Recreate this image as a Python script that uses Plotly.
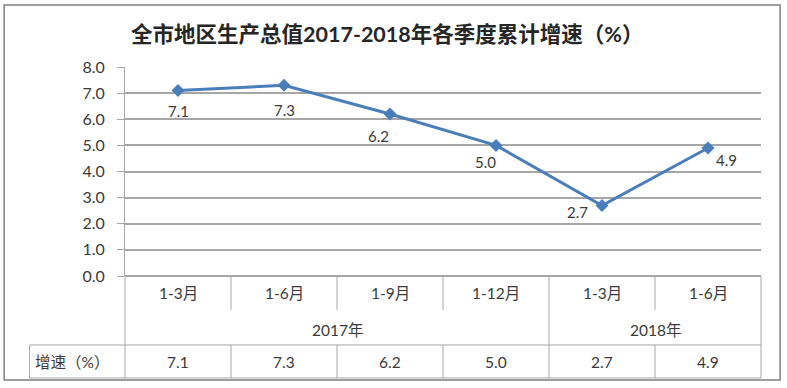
import plotly.graph_objects as go

# ---- data ----
periods = ["1-3月", "1-6月", "1-9月", "1-12月", "1-3月", "1-6月"]
years = ["2017年", "2018年"]
year_spans = [(0, 3), (4, 5)]          # category index range for each year
growth = [7.1, 7.3, 6.2, 5.0, 2.7, 4.9]
row_label = "增速（%）"
title_text = "全市地区生产总值2017-2018年各季度累计增速（%）"
y_ticks = [0, 1, 2, 3, 4, 5, 6, 7, 8]

# ---- styles ----
FONT = "Lato, 'Noto Sans CJK SC', sans-serif"
TXT = "#3A3A3A"
LINE_BLUE = "#4A7EBB"
GRID = "#A6A6A6"
label_offsets = [(0, -20), (0, -25), (-12, -22), (-11, -17), (-25, -7), (18, -12)]

n = len(periods)
x_idx = list(range(n))

fig = go.Figure()
fig.add_trace(go.Scatter(
    x=x_idx, y=growth, mode="lines+markers",
    line=dict(color=LINE_BLUE, width=3),
    marker=dict(symbol="diamond", size=10, color=LINE_BLUE),
    hoverinfo="skip", showlegend=False,
))

annotations = []
# data labels
for i, v in enumerate(growth):
    dx, dy = label_offsets[i]
    annotations.append(dict(x=i, y=v, xref="x", yref="y", text=f"{v:.1f}",
                            showarrow=False, xshift=dx, yshift=dy,
                            xanchor="center", yanchor="middle",
                            font=dict(family=FONT, size=15, color=TXT)))

# table geometry (paper coords, y below the plot)
Y_MONTH_BOT = -0.163
Y_ROW_TOP = -0.330
Y_ROW_BOT = -0.488
Y_MONTH_TXT = -0.081
Y_YEAR_TXT = -0.258
Y_DATA_TXT = -0.411
LABEL_LEFT = -0.150

def px(k):  # category boundary -> paper x
    return k / n

def tbl_text(x, y, text, anchor="center"):
    annotations.append(dict(x=x, y=y, xref="paper", yref="paper", text=text,
                            showarrow=False, xanchor=anchor, yanchor="middle",
                            font=dict(family=FONT, size=15.5, color=TXT)))

for i, p in enumerate(periods):
    tbl_text((i + 0.5) / n, Y_MONTH_TXT, p)
    tbl_text((i + 0.5) / n, Y_DATA_TXT, f"{growth[i]:.1f}")
for yname, (a, b) in zip(years, year_spans):
    tbl_text((a + b + 1) / 2 / n, Y_YEAR_TXT, yname)
tbl_text(LABEL_LEFT + 0.005, Y_DATA_TXT, row_label, anchor="left")

shapes = []
def ln(x0, y0, x1, y1, color=GRID, w=1):
    shapes.append(dict(type="line", xref="paper", yref="paper", x0=x0, y0=y0, x1=x1, y1=y1,
                       line=dict(color=color, width=w)))

year_breaks = [b + 1 for (_, b) in year_spans]
for k in range(n + 1):
    if k == 0 or k in year_breaks:
        ln(px(k), 0, px(k), Y_ROW_BOT)
    else:
        ln(px(k), 0, px(k), Y_MONTH_BOT)
        ln(px(k), Y_ROW_TOP, px(k), Y_ROW_BOT)
ln(LABEL_LEFT, Y_ROW_TOP, 1, Y_ROW_TOP)
ln(LABEL_LEFT, Y_ROW_BOT, 1, Y_ROW_BOT)
ln(LABEL_LEFT, Y_ROW_TOP, LABEL_LEFT, Y_ROW_BOT)
ln(0, 0, 1, 0)
# outer chart border
shapes.append(dict(type="rect", xref="paper", yref="paper",
                   x0=-0.190, y0=-0.498, x1=1.030, y1=1.297,
                   line=dict(color="#7F7F7F", width=1.5)))

fig.update_layout(
    width=787, height=388,
    margin=dict(l=125, r=26, t=67, b=112),
    paper_bgcolor="white", plot_bgcolor="white",
    title=dict(text=f"<b>{title_text}</b>", x=0.492, xref="container", xanchor="center",
               y=0.91, yref="container", yanchor="middle",
               font=dict(family=FONT, size=21.5, color="#262626")),
    xaxis=dict(range=[-0.5, n - 0.5], showgrid=False, showline=False, zeroline=False,
               showticklabels=False, ticks=""),
    yaxis=dict(range=[0, 8], tickvals=y_ticks, tickformat=".1f",
               showgrid=True, gridcolor=GRID, gridwidth=1.5,
               zeroline=True, zerolinecolor=GRID, zerolinewidth=1.5,
               showline=True, linecolor=GRID, linewidth=1,
               ticks="outside", ticklen=7, tickcolor=GRID, ticklabelstandoff=9,
               tickfont=dict(family=FONT, size=16, color=TXT)),
    annotations=annotations, shapes=shapes,
)

fig.write_html("out.html", config={"displayModeBar": False},
               post_script="document.body.style.margin='0';document.body.style.overflow='hidden';")
